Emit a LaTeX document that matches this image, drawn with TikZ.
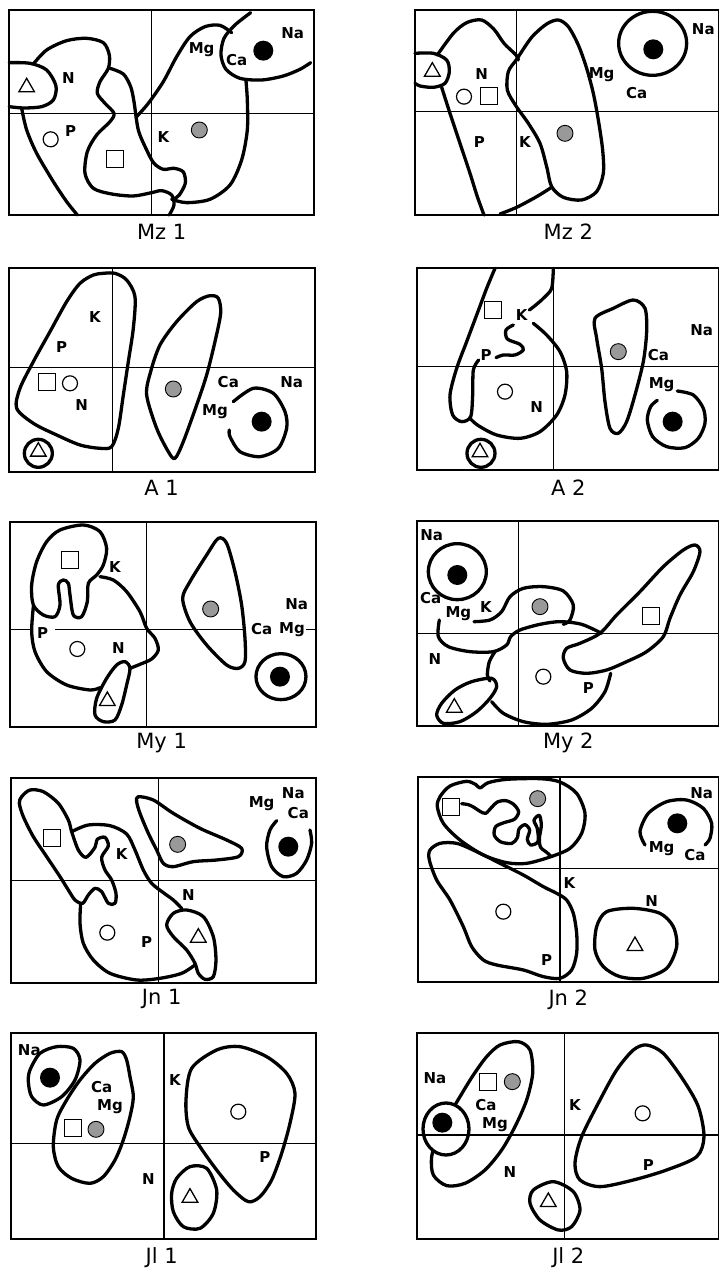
\documentclass[tikz,border=0pt]{standalone}
\usepackage{fontspec}
\setsansfont{DejaVu Sans}
\usetikzlibrary{shapes.geometric}

\begin{document}
\begin{tikzpicture}[
  panel/.style={x=0.3333pt, y=-0.3333pt},
  pframe/.style={line width=1.8pt},
  divider/.style={line width=1.4pt},
  blob/.style={line width=3.3pt, line join=round, line cap=round},
  lbl/.style={font=\sffamily\bfseries\fontsize{15}{17}\selectfont, inner sep=0pt},
  ttl/.style={font=\sffamily\fontsize{21}{23}\selectfont, inner sep=0pt},
  opn/.style={circle, draw, line width=1.2pt, minimum size=15pt, inner sep=0pt},
  sqr/.style={rectangle, draw, line width=1.2pt, minimum size=17pt, inner sep=0pt},
  tri/.style={regular polygon, regular polygon sides=3, draw, line width=1.3pt, minimum size=18pt, inner sep=0pt},
  blkdot/.style={circle, fill=black, minimum size=20pt, inner sep=0pt},
  stip/.style={circle, draw, fill=black!40, line width=0.9pt, minimum size=16pt, inner sep=0pt}
]
\useasboundingbox (0pt,0pt) rectangle (719pt,-1268pt);

% Mz 1
\begin{scope}[panel]
  \draw[pframe] (28,30) rectangle (942,645);
  \draw[divider] (455,30) -- (455,645) (28,340) -- (942,340);
  \draw[blob] plot[smooth] coordinates {(28,188) (90,190) (140,210) (168,258) (160,300) (125,320) (70,324) (28,320)};
  \draw[blob] plot[smooth] coordinates {(65,325) (80,390) (110,460) (160,545) (200,605) (232,645)};
  \draw[blob] plot[smooth] coordinates {(100,192) (140,150) (200,122) (260,115) (310,128) (328,165) (325,205) (300,245) (292,280) (315,310) (342,340) (330,365) (290,405) (262,455) (255,520) (280,565) (335,582) (400,588) (455,578) (485,572) (515,585) (522,615) (508,645)};
  \draw[blob] plot[smooth] coordinates {(330,205) (370,222) (392,260) (402,305) (415,390) (440,450) (462,490) (490,508) (522,505) (550,516) (556,550) (538,585) (522,597)};
  \draw[blob] plot[smooth] coordinates {(515,598) (560,608) (630,598) (690,555) (725,480) (742,390) (742,300) (738,242)};
  \draw[blob] plot[smooth] coordinates {(408,352) (445,310) (490,245) (530,170) (570,110) (615,80) (660,76) (695,98)};
  \draw[blob] plot[smooth] coordinates {(752,38) (705,75) (672,115) (663,165) (678,208) (720,235) (785,240) (850,228) (900,208) (932,188)};
  \node[tri] (mza-tri) at (80,262) {};
  \node[opn] (mza-opn) at (152,418) {};
  \node[sqr] (mza-sqr) at (345,478) {};
  \node[stip] (mza-stp) at (598,390) {};
  \node[blkdot] (mza-dot) at (790,152) {};
  \node[lbl] (mza-n) at (205,235) {N};
  \node[lbl] (mza-p) at (212,392) {P};
  \node[lbl] (mza-k) at (490,410) {K};
  \node[lbl] (mza-mg) at (605,150) {Mg};
  \node[lbl] (mza-ca) at (710,180) {Ca};
  \node[lbl] (mza-na) at (878,98) {Na};
  \node[ttl] (mza-t) at (485,695) {Mz 1};
\end{scope}

% Mz 2
\begin{scope}[panel, shift={(400pt,0pt)}]
  \draw[pframe] (45,30) rectangle (958,645);
  \draw[divider] (350,30) -- (350,645) (45,335) -- (958,335);
  \draw[blob] plot[smooth] coordinates {(45,160) (100,160) (140,180) (148,215) (135,250) (100,262) (60,258) (45,250)};
  \draw[blob] plot[smooth cycle] coordinates {(350,178) (395,112) (440,72) (475,60) (505,80) (535,135) (560,205) (580,280) (595,360) (608,450) (610,520) (590,575) (545,600) (490,592) (455,560) (440,500) (420,430) (385,370) (348,318) (322,270) (325,215)};
  \draw[blob] plot[smooth] coordinates {(112,165) (160,100) (200,68) (245,60) (282,88) (312,130) (348,165) (355,180)};
  \draw[blob] plot[smooth] coordinates {(125,262) (150,340) (180,430) (210,520) (232,590) (252,645)};
  \draw[blob] plot[smooth] coordinates {(300,642) (350,622) (410,590) (455,562)};
  \draw[blob] (758,130) ellipse [x radius=34pt, y radius=32pt];
  \node[tri] (mzb-tri) at (97,215) {};
  \node[opn] (mzb-opn) at (192,290) {};
  \node[sqr] (mzb-sqr) at (267,287) {};
  \node[stip] (mzb-stp) at (495,400) {};
  \node[blkdot] (mzb-dot) at (760,148) {};
  \node[lbl] (mzb-n) at (245,222) {N};
  \node[lbl] (mzb-p) at (238,425) {P};
  \node[lbl] (mzb-k) at (375,425) {K};
  \node[lbl] (mzb-mg) at (605,225) {Mg};
  \node[lbl] (mzb-ca) at (710,280) {Ca};
  \node[lbl] (mzb-na) at (910,88) {Na};
  \node[ttl] (mzb-t) at (505,695) {Mz 2};
\end{scope}

% A 1
\begin{scope}[panel, shift={(0pt,-255pt)}]
  \draw[pframe] (28,38) rectangle (945,650);
  \draw[divider] (337,38) -- (337,650) (28,338) -- (945,338);
  \draw[blob] plot[smooth cycle] coordinates {(310,55) (345,55) (380,75) (405,125) (400,220) (385,320) (370,420) (355,520) (335,575) (300,580) (240,570) (170,540) (100,505) (50,460) (60,400) (100,320) (150,230) (200,140) (240,85) (280,60)};
  \draw[blob] (115,595) circle [radius=14pt];
  \draw[blob] plot[smooth cycle] coordinates {(630,122) (655,130) (662,175) (645,260) (620,360) (590,450) (550,560) (525,610) (505,590) (470,520) (440,420) (452,350) (480,270) (530,200) (590,140)};
  \draw[blob] plot[smooth] coordinates {(700,440) (760,400) (820,415) (855,470) (860,520) (835,580) (780,605) (720,590) (690,545) (688,525)};
  \node[tri] (aa-tri) at (115,590) {};
  \node[opn] (aa-opn) at (210,385) {};
  \node[sqr] (aa-sqr) at (140,380) {};
  \node[stip] (aa-stp) at (520,402) {};
  \node[blkdot] (aa-dot) at (785,500) {};
  \node[lbl] (aa-k) at (285,185) {K};
  \node[lbl] (aa-p) at (185,275) {P};
  \node[lbl] (aa-n) at (245,450) {N};
  \node[lbl] (aa-ca) at (685,380) {Ca};
  \node[lbl] (aa-na) at (875,380) {Na};
  \node[lbl] (aa-mg) at (645,470) {Mg};
  \node[ttl] (aa-t) at (485,698) {A 1};
\end{scope}

% A 2
\begin{scope}[panel, shift={(400pt,-255pt)}]
  \draw[pframe] (50,38) rectangle (958,645);
  \draw[divider] (460,38) -- (460,645) (50,335) -- (958,335);
  \draw[blob] plot[smooth] coordinates {(285,40) (260,100) (230,180) (200,260) (170,340) (150,420) (158,480) (185,500) (212,485) (218,420) (220,345) (236,315)};
  \draw[blob] plot[smooth] coordinates {(460,40) (455,100) (430,130) (405,152) (388,165)};
  \draw[blob] plot[smooth] coordinates {(340,210) (318,225) (322,252) (360,268) (370,285) (345,300) (310,300) (288,308)};
  \draw[blob] plot[smooth] coordinates {(400,205) (440,240) (480,290) (500,350) (495,420) (470,480) (420,530) (360,550) (290,540) (235,512) (212,492)};
  \draw[blob] (243,595) circle [radius=14pt];
  \draw[blob] plot[smooth cycle] coordinates {(640,160) (700,135) (735,160) (740,230) (730,320) (705,420) (680,500) (655,535) (630,520) (615,440) (605,340) (590,250) (585,190)};
  \draw[blob] plot[smooth] coordinates {(832,408) (880,420) (910,460) (915,505) (895,550) (855,578) (800,575) (758,545) (742,495) (752,455) (772,436)};
  \node[tri] (ab-tri) at (240,592) {};
  \node[opn] (ab-opn) at (315,410) {};
  \node[sqr] (ab-sqr) at (278,165) {};
  \node[stip] (ab-stp) at (655,290) {};
  \node[blkdot] (ab-dot) at (818,500) {};
  \node[lbl] (ab-k) at (365,180) {K};
  \node[lbl] (ab-p) at (258,300) {P};
  \node[lbl] (ab-n) at (410,455) {N};
  \node[lbl] (ab-na) at (905,225) {Na};
  \node[lbl] (ab-ca) at (775,300) {Ca};
  \node[lbl] (ab-mg) at (785,390) {Mg};
  \node[ttl] (ab-t) at (505,698) {A 2};
\end{scope}

% My 1
\begin{scope}[panel, shift={(0pt,-505pt)}]
  \draw[pframe] (30,52) rectangle (948,665);
  \draw[divider] (440,52) -- (440,665) (30,373) -- (100,373) (165,373) -- (738,373) (918,373) -- (948,373);
  \draw[blob] plot[smooth cycle] coordinates {(180,75) (250,60) (300,80) (320,130) (310,180) (290,210) (265,235) (262,290) (245,335) (220,330) (210,270) (205,235) (190,225) (175,240) (180,300) (165,335) (130,330) (100,300) (95,240) (110,170) (140,110)};
  \draw[blob] plot[smooth] coordinates {(300,215) (340,225) (380,260) (420,320) (440,370) (465,400) (475,435) (455,462) (420,478) (390,490)};
  \draw[blob] plot[smooth] coordinates {(100,305) (95,380) (105,440) (140,500) (200,540) (270,555) (300,548)};
  \draw[blob] plot[smooth cycle] coordinates {(375,470) (390,490) (380,540) (365,600) (345,645) (310,650) (285,630) (290,580) (320,520) (350,480)};
  \draw[blob] plot[smooth cycle] coordinates {(655,100) (680,115) (705,200) (725,300) (735,400) (735,470) (715,490) (680,480) (620,420) (570,350) (548,280) (570,230) (620,150)};
  \draw[blob] (843,515) ellipse [x radius=25pt, y radius=23pt];
  \node[tri] (mya-tri) at (322,588) {};
  \node[opn] (mya-opn) at (232,432) {};
  \node[sqr] (mya-sqr) at (210,165) {};
  \node[stip] (mya-stp) at (632,312) {};
  \node[blkdot] (mya-dot) at (840,515) {};
  \node[lbl] (mya-k) at (345,185) {K};
  \node[lbl] (mya-p) at (128,385) {P};
  \node[lbl] (mya-n) at (355,430) {N};
  \node[lbl] (mya-na) at (890,298) {Na};
  \node[lbl] (mya-ca) at (785,373) {Ca};
  \node[lbl] (mya-mg) at (876,373) {Mg};
  \node[ttl] (mya-t) at (485,713) {My 1};
\end{scope}

% My 2
\begin{scope}[panel, shift={(400pt,-505pt)}]
  \draw[pframe] (52,48) rectangle (958,663);
  \draw[divider] (355,48) -- (355,663) (52,385) -- (958,385);
  \draw[blob] (172,200) ellipse [x radius=29pt, y radius=28pt];
  \draw[blob] plot[smooth] coordinates {(222,350) (270,345) (305,320) (330,275) (370,250) (430,245) (490,258) (520,300) (510,345) (490,358)};
  \draw[blob] plot[smooth] coordinates {(118,345) (115,395) (145,425) (210,440) (280,440) (320,420) (332,395) (360,375) (420,358) (480,350) (545,358) (605,385)};
  \draw[blob] plot[smooth] coordinates {(285,440) (268,470) (262,510) (270,528)};
  \draw[blob] plot[smooth] coordinates {(632,505) (615,560) (575,610) (515,645) (440,658) (370,650) (310,625) (275,590)};
  \draw[blob] plot[smooth cycle] coordinates {(885,120) (900,140) (880,200) (840,270) (810,340) (790,395) (740,440) (680,470) (620,495) (560,505) (510,495) (490,460) (500,430) (540,415) (600,385) (650,330) (720,260) (790,185) (850,135)};
  \draw[blob] plot[smooth cycle] coordinates {(275,520) (290,545) (270,580) (230,620) (180,650) (130,655) (110,630) (125,595) (165,555) (215,530)};
  \node[tri] (myb-tri) at (163,608) {};
  \node[opn] (myb-opn) at (430,515) {};
  \node[sqr] (myb-sqr) at (753,333) {};
  \node[stip] (myb-stp) at (420,305) {};
  \node[blkdot] (myb-dot) at (172,210) {};
  \node[lbl] (myb-na) at (95,90) {Na};
  \node[lbl] (myb-ca) at (92,280) {Ca};
  \node[lbl] (myb-mg) at (175,325) {Mg};
  \node[lbl] (myb-k) at (258,305) {K};
  \node[lbl] (myb-n) at (105,462) {N};
  \node[lbl] (myb-p) at (565,550) {P};
  \node[ttl] (myb-t) at (505,713) {My 2};
\end{scope}

% Jn 1
\begin{scope}[panel, shift={(0pt,-760pt)}]
  \draw[pframe] (33,55) rectangle (948,670);
  \draw[divider] (475,55) -- (475,670) (33,362) -- (948,362);
  \draw[blob] plot[smooth cycle] coordinates {(65,110) (90,90) (130,95) (175,130) (205,180) (215,215) (235,270) (258,292) (285,262) (292,238) (315,232) (325,258) (305,292) (315,330) (335,360) (348,400) (345,430) (325,430) (305,395) (285,385) (265,405) (248,430) (225,420) (205,390) (180,350) (140,290) (100,230) (70,170) (58,130)};
  \draw[blob] plot[smooth] coordinates {(215,215) (265,195) (330,197) (380,222) (405,270) (430,330) (455,370) (490,398) (520,420) (545,445)};
  \draw[blob] plot[smooth] coordinates {(585,615) (545,640) (480,655) (410,660) (330,640) (280,600) (250,550) (240,490) (242,432)};
  \draw[blob] plot[smooth cycle] coordinates {(520,460) (560,450) (610,470) (640,530) (648,600) (640,650) (615,658) (595,640) (585,610) (560,570) (520,530) (500,495)};
  \draw[blob] plot[smooth cycle] coordinates {(415,110) (460,120) (520,160) (600,205) (680,240) (725,265) (715,290) (650,300) (580,305) (520,320) (490,310) (470,270) (445,220) (420,160) (410,125)};
  \draw[blob] plot[smooth] coordinates {(830,182) (810,210) (800,260) (815,320) (850,350) (890,340) (920,300) (935,250) (930,210)};
  \node[tri] (jna-tri) at (595,533) {};
  \node[opn] (jna-opn) at (322,518) {};
  \node[sqr] (jna-sqr) at (155,235) {};
  \node[stip] (jna-stp) at (533,253) {};
  \node[blkdot] (jna-dot) at (865,260) {};
  \node[lbl] (jna-mg) at (785,130) {Mg};
  \node[lbl] (jna-na) at (880,98) {Na};
  \node[lbl] (jna-ca) at (895,158) {Ca};
  \node[lbl] (jna-k) at (365,282) {K};
  \node[lbl] (jna-n) at (565,405) {N};
  \node[lbl] (jna-p) at (440,545) {P};
  \node[ttl] (jna-t) at (485,718) {Jn 1};
\end{scope}

% Jn 2
\begin{scope}[panel, shift={(400pt,-760pt)}]
  \draw[pframe] (55,52) rectangle (958,665);
  \draw[divider] (480,52) -- (480,665) (55,325) -- (958,325);
  \draw[blob] plot[smooth cycle] coordinates {(120,110) (150,78) (200,64) (228,74) (240,84) (265,68) (320,58) (420,56) (480,66) (530,100) (555,160) (545,220) (510,265) (450,291) (380,310) (320,308) (250,285) (180,240) (130,190) (112,140)};
  \draw[blob] plot[smooth] coordinates {(185,131) (205,134) (222,142) (240,154) (257,160) (275,142) (292,126) (318,122) (342,134) (356,156) (343,178) (312,188) (287,200) (283,226) (303,246) (336,250) (352,233) (357,207) (375,194) (389,210) (382,238) (392,255) (414,245) (412,206) (402,181) (418,166) (424,196) (418,236) (422,262) (440,277) (452,288)};
  \draw[blob] plot[smooth cycle] coordinates {(90,270) (120,250) (170,250) (230,275) (300,310) (370,345) (430,380) (470,400) (500,420) (520,460) (530,520) (530,580) (515,630) (480,655) (430,650) (370,630) (290,615) (250,600) (215,560) (190,500) (150,420) (110,360) (88,300)};
  \draw[blob] plot[smooth cycle] coordinates {(620,455) (700,445) (780,460) (820,500) (830,560) (800,625) (730,655) (660,650) (610,620) (585,570) (590,500)};
  \draw[blob] plot[smooth] coordinates {(735,255) (720,215) (745,160) (800,125) (860,120) (910,145) (935,190) (930,235) (915,255)};
  \node[tri] (jnb-tri) at (705,558) {};
  \node[opn] (jnb-opn) at (310,455) {};
  \node[sqr] (jnb-sqr) at (152,140) {};
  \node[stip] (jnb-stp) at (413,116) {};
  \node[blkdot] (jnb-dot) at (832,190) {};
  \node[lbl] (jnb-na) at (905,98) {Na};
  \node[lbl] (jnb-mg) at (785,265) {Mg};
  \node[lbl] (jnb-ca) at (885,285) {Ca};
  \node[lbl] (jnb-k) at (508,370) {K};
  \node[lbl] (jnb-n) at (755,422) {N};
  \node[lbl] (jnb-p) at (440,600) {P};
  \node[ttl] (jnb-t) at (505,718) {Jn 2};
\end{scope}

% Jl 1
\begin{scope}[panel, shift={(0pt,-1010pt)}]
  \draw[pframe] (33,70) rectangle (948,688);
  \draw[divider] (492,70) -- (492,688) (33,400) -- (948,400);
  \draw[blob] plot[smooth cycle] coordinates {(90,180) (120,130) (170,110) (220,115) (240,150) (225,210) (185,260) (130,285) (95,260) (85,215)};
  \draw[blob] plot[smooth cycle] coordinates {(330,130) (365,125) (380,150) (390,200) (400,260) (390,320) (370,390) (345,450) (310,500) (270,520) (215,505) (175,470) (160,410) (170,330) (200,270) (240,210) (285,160)};
  \draw[blob] plot[smooth cycle] coordinates {(575,175) (650,120) (720,110) (800,140) (860,190) (885,250) (870,340) (845,430) (815,510) (780,560) (745,575) (700,540) (650,480) (600,410) (565,350) (558,270)};
  \draw[blob] plot[smooth cycle] coordinates {(530,505) (570,470) (620,475) (650,540) (640,610) (600,655) (550,650) (520,605) (515,550)};
  \node[tri] (jla-tri) at (570,563) {};
  \node[opn] (jla-opn) at (715,305) {};
  \node[sqr] (jla-sqr) at (218,355) {};
  \node[stip] (jla-stp) at (288,358) {};
  \node[blkdot] (jla-dot) at (150,203) {};
  \node[lbl] (jla-na) at (88,120) {Na};
  \node[lbl] (jla-ca) at (305,232) {Ca};
  \node[lbl] (jla-mg) at (330,290) {Mg};
  \node[lbl] (jla-k) at (525,210) {K};
  \node[lbl] (jla-n) at (445,508) {N};
  \node[lbl] (jla-p) at (795,440) {P};
  \node[ttl] (jla-t) at (485,742) {Jl 1};
\end{scope}

% Jl 2
\begin{scope}[panel, shift={(400pt,-1010pt)}]
  \draw[pframe] (52,68) rectangle (958,688);
  \draw[blob] plot[smooth cycle] coordinates {(300,105) (355,95) (390,120) (398,190) (380,270) (345,350) (305,420) (255,480) (195,520) (140,527) (100,495) (95,440) (115,380) (145,320) (180,260) (220,195) (260,140)};
  \draw[blob, fill=white] (138,357) ellipse [x radius=23pt, y radius=26pt];
  \draw[divider] (493,68) -- (493,688) (52,375) -- (958,375);
  \draw[blob] plot[smooth cycle] coordinates {(700,120) (740,105) (790,130) (850,210) (895,290) (912,380) (890,440) (800,480) (700,510) (600,530) (540,510) (525,460) (545,380) (600,270) (650,180)};
  \draw[blob] plot[smooth cycle] coordinates {(400,540) (460,515) (520,545) (540,600) (515,650) (475,660) (420,630) (390,580)};
  \node[tri] (jlb-tri) at (445,576) {};
  \node[opn] (jlb-opn) at (728,310) {};
  \node[sqr] (jlb-sqr) at (265,215) {};
  \node[stip] (jlb-stp) at (337,215) {};
  \node[blkdot] (jlb-dot) at (127,338) {};
  \node[lbl] (jlb-na) at (105,205) {Na};
  \node[lbl] (jlb-ca) at (258,285) {Ca};
  \node[lbl] (jlb-mg) at (285,345) {Mg};
  \node[lbl] (jlb-n) at (330,487) {N};
  \node[lbl] (jlb-k) at (525,285) {K};
  \node[lbl] (jlb-p) at (745,465) {P};
  \node[ttl] (jlb-t) at (505,742) {Jl 2};
\end{scope}
\end{tikzpicture}
\end{document}
